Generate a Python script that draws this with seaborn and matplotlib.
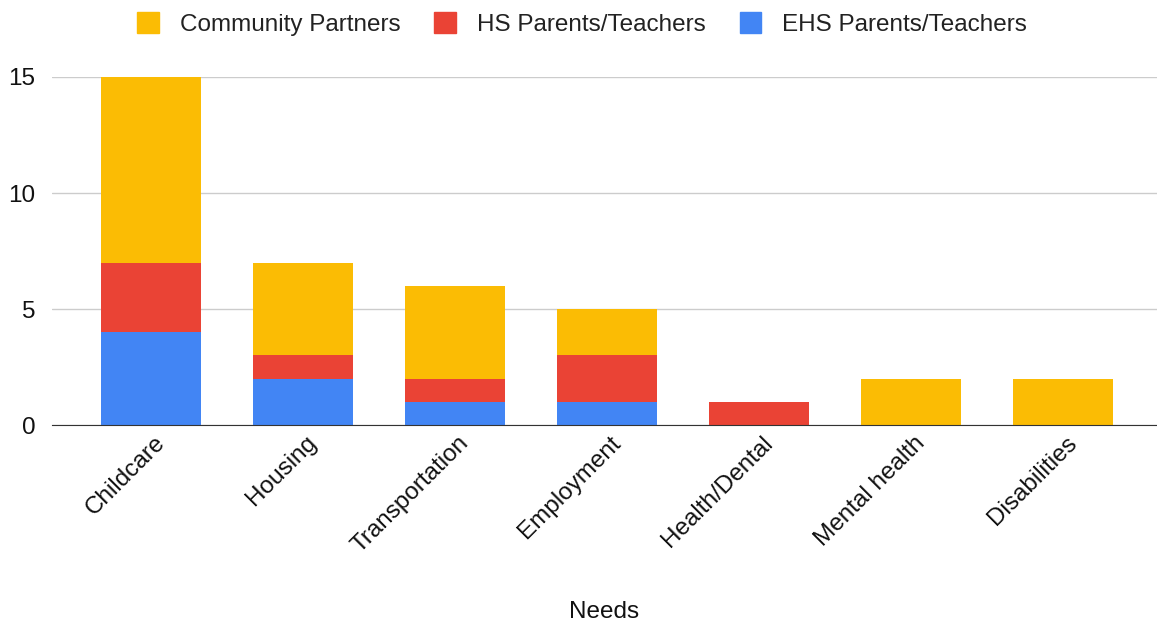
import matplotlib
matplotlib.use("Agg")
import matplotlib.pyplot as plt
import seaborn as sns
import numpy as np
from matplotlib.patches import Patch
from matplotlib.transforms import ScaledTranslation

needs = ["Childcare", "Housing", "Transportation", "Employment",
         "Health/Dental", "Mental health", "Disabilities"]
ehs = [4, 2, 1, 1, 0, 0, 0]
hs = [3, 1, 1, 2, 1, 0, 0]
community = [8, 4, 4, 2, 0, 2, 2]

colors = {"Community Partners": "#FBBC04",
          "HS Parents/Teachers": "#EA4335",
          "EHS Parents/Teachers": "#4285F4"}

sns.set_style("white")
plt.rcParams["font.family"] = ["Liberation Sans", "DejaVu Sans"]

fig = plt.figure(figsize=(11.57, 6.26), dpi=100)
ax = fig.add_axes([0.045, 0.321, 0.955, 0.556])

bottom_hs = np.array(ehs)
bottom_cp = bottom_hs + np.array(hs)
sns.barplot(x=needs, y=ehs, color=colors["EHS Parents/Teachers"], width=0.66,
            saturation=1, linewidth=0, ax=ax)
sns.barplot(x=needs, y=hs, bottom=bottom_hs, color=colors["HS Parents/Teachers"],
            width=0.66, saturation=1, linewidth=0, ax=ax)
sns.barplot(x=needs, y=community, bottom=bottom_cp,
            color=colors["Community Partners"], width=0.66, saturation=1,
            linewidth=0, ax=ax)

ax.set_ylim(0, 15)
ax.set_xlim(-0.65, 6.62)
ax.set_yticks([0, 5, 10, 15])
ax.yaxis.grid(True, color="#cccccc", linewidth=1)
ax.set_axisbelow(True)
for s in ["top", "right", "left"]:
    ax.spines[s].set_visible(False)
ax.spines["bottom"].set_color("#333333")
ax.tick_params(axis="both", length=0, labelsize=17.5, colors="#111111")
ax.tick_params(axis="y", pad=12)
ax.tick_params(axis="x", pad=5)
offset = ScaledTranslation(0.03, 0, fig.dpi_scale_trans)
for lab in ax.get_xticklabels():
    lab.set_rotation(45)
    lab.set_ha("right")
    lab.set_rotation_mode("anchor")
    lab.set_transform(lab.get_transform() + offset)
ax.set_xlabel("Needs", fontsize=17.5, color="#111111")
ax.xaxis.set_label_coords(0.5, -0.505)
ax.set_ylabel("")

handles = [Patch(color=c, label=k) for k, c in colors.items()]
fig.legend(handles=handles, loc="upper center", bbox_to_anchor=(0.503, 1.015),
           ncol=3, frameon=False, fontsize=17.5, handlelength=0.9,
           handleheight=0.9, handletextpad=0.85, columnspacing=1.4,
           labelcolor="#222222")

fig.savefig("out.png", dpi=100)
